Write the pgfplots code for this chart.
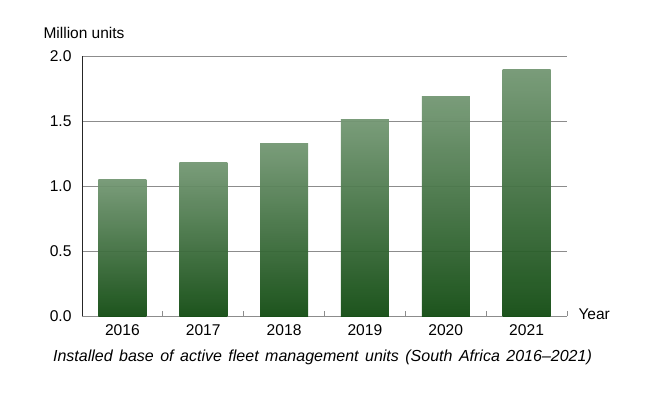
\documentclass[border=0pt]{standalone}
\usepackage{pgfplots}
\pgfplotsset{compat=1.18}
\usepackage{fontspec}
\setmainfont{Liberation Sans}
\definecolor{barTop}{HTML}{739773}
\definecolor{barMid}{HTML}{4A6F4A}
\definecolor{barBot}{HTML}{114B11}
\definecolor{gridc}{HTML}{8C8C8C}
\pgfplotsset{bstyle/.style={ybar, bar width=48pt, bar shift=0pt, draw=none, fill opacity=0.95, top color=barTop, middle color=barMid, bottom color=barBot}}
\begin{document}
\begin{tikzpicture}
\begin{axis}[
  scale only axis,
  width=485pt, height=260pt,
  xmin=-0.5, xmax=5.5, ymin=0, ymax=2,
  clip=false,
  axis x line*=bottom, axis y line*=left,
  x axis line style={gridc, line width=0.9pt},
  y axis line style={black!85, line width=0.9pt},
  xtick={0,1,2,3,4,5},
  xticklabels={2016,2017,2018,2019,2020,2021},
  major x tick style={draw=none},
  minor xtick={0.5,1.5,2.5,3.5,4.5,5.5},
  minor x tick style={gridc, line width=0.9pt},
  minor tick length=5pt,
  xtick align=inside,
  ytick={0,0.5,1,1.5,2},
  major y tick style={draw=none},
  ymajorgrids,
  grid style={gridc, line width=0.9pt},
  yticklabel style={/pgf/number format/fixed, /pgf/number format/fixed zerofill, /pgf/number format/precision=1},
  yticklabel shift=7pt,
  /pgf/number format/assume math mode=true,
  tick label style={font=\fontsize{15.6}{18}\selectfont},
  xticklabel shift=5pt,
]
\addplot[bstyle] coordinates {(0,1.05)};
\addplot[bstyle] coordinates {(1,1.18)};
\addplot[bstyle] coordinates {(2,1.33)};
\addplot[bstyle] coordinates {(3,1.51)};
\addplot[bstyle] coordinates {(4,1.69)};
\addplot[bstyle] coordinates {(5,1.90)};
\node[anchor=west, font=\fontsize{15.5}{18}\selectfont] at ([xshift=-42pt,yshift=23pt]rel axis cs:0,1) {Million units};
\node[anchor=west, font=\fontsize{15.5}{18}\selectfont] at ([xshift=8pt,yshift=2pt]rel axis cs:1,0) {Year};
\node[anchor=center, font=\fontsize{16}{18}\selectfont\itshape] at ([xshift=-2pt,yshift=-41pt]rel axis cs:0.5,0) {\spaceskip=6.5pt plus 1pt Installed base of active fleet management units (South Africa 2016--2021)};
\path ([xshift=-82pt,yshift=-78pt]rel axis cs:0,0) rectangle ([xshift=86pt,yshift=56pt]rel axis cs:1,1);
\end{axis}
\end{tikzpicture}
\end{document}
